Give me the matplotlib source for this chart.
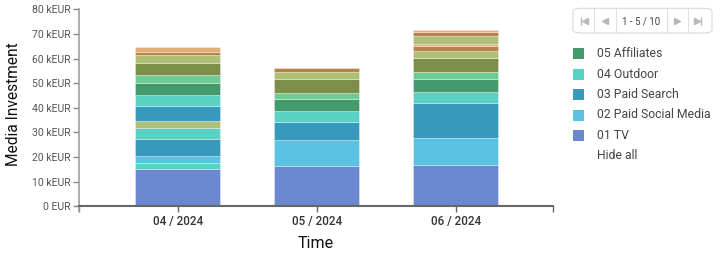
import matplotlib
matplotlib.use("Agg")
import matplotlib.pyplot as plt
from matplotlib.ticker import FuncFormatter, MultipleLocator
from matplotlib.patches import FancyBboxPatch, Rectangle
from matplotlib.lines import Line2D

plt.rcParams['font.family'] = ['Roboto', 'DejaVu Sans']

# ---- data (kEUR) ----
months = ["04 / 2024", "05 / 2024", "06 / 2024"]
series_names = ["01 TV", "02 Paid Social Media", "03 Paid Search", "04 Outdoor",
                "05 Affiliates", "06", "07", "08", "09", "10"]
series_colors = ["#6a87cf", "#5bc2e2", "#3799bb", "#5bd1c5", "#449a6d",
                 "#6dcc95", "#7d8d4a", "#aec075", "#b8834a", "#e3ad78"]

apr_series = [0, 3, 1, 2, 3, 7, 2, 3, 4, 5, 6, 7, 8, 9]
apr_values = [15.3, 2.1, 3.2, 6.8, 4.2, 3.2, 6.0, 4.6, 4.7, 3.1, 5.1, 3.0, 1.4, 2.0]
may_series = [0, 1, 2, 3, 4, 5, 6, 7, 8]
may_values = [16.3, 10.8, 7.0, 4.6, 4.7, 2.8, 5.4, 2.8, 1.8]
jun_series = [0, 1, 2, 3, 4, 5, 6, 7, 8, 9, 7, 8, 9]
jun_values = [16.7, 11.1, 14.3, 4.5, 5.1, 3.0, 5.4, 3.0, 1.8, 0.9, 3.4, 1.4, 0.8]

stacks = [(apr_series, apr_values), (may_series, may_values), (jun_series, jun_values)]

W, H = 727, 259
fig = plt.figure(figsize=(W / 100, H / 100), dpi=100)

def fx(x):
    return x / W

def fy(y):
    return 1 - y / H

ax = fig.add_axes([fx(79), fy(206.3), fx(553) - fx(79), fy(9.3) - fy(206.3)])

for i, (ser, vals) in enumerate(stacks):
    bottom = 0.0
    for s, v in zip(ser, vals):
        ax.bar(i, v, bottom=bottom, width=0.61, color=series_colors[s],
               edgecolor=(1, 1, 1, 0.45), linewidth=0.5)
        bottom += v

ax.set_xlim(-0.71, 2.70)
ax.set_ylim(0, 80)
ax.yaxis.set_major_locator(MultipleLocator(10))
ax.yaxis.set_major_formatter(FuncFormatter(lambda v, p: "0 EUR" if v == 0 else f"{v:g} kEUR"))
ax.set_xticks(range(len(months)))
ax.set_xticklabels(months, fontweight="medium")
ax.set_xticks([-0.71, 2.70], minor=True)

for s in ["top", "right"]:
    ax.spines[s].set_visible(False)
ax.spines["left"].set_color("#a0a0a0")
ax.spines["left"].set_linewidth(1.2)
ax.spines["bottom"].set_color("#666666")
ax.spines["bottom"].set_linewidth(1.5)
ax.spines["left"].set_bounds(-2, 80)

ax.tick_params(axis="y", length=4, width=1, color="#888888", labelsize=7.5,
               labelcolor="#555555", pad=2)
ax.tick_params(axis="x", which="both", length=4, width=1, color="#666666",
               labelsize=8.4, labelcolor="#333333", pad=2)
ax.tick_params(axis="x", which="minor", length=4)

ax.set_ylabel("Media Investment", fontsize=11.2, color="#111111")
ax.yaxis.set_label_coords(-0.123, 0.52)
ax.set_xlabel("Time", fontsize=11.5, color="#111111", labelpad=6)

# ---- paginated legend ----
box = FancyBboxPatch((fx(573), fy(33)), fx(712) - fx(573), fy(8.3) - fy(33),
                     boxstyle="round,pad=0,rounding_size=0.012",
                     transform=fig.transFigure, facecolor="white",
                     edgecolor="#d9d9d9", linewidth=0.8)
fig.add_artist(box)
for xd in [594.3, 615.7, 666.7, 688.3]:
    fig.add_artist(Line2D([fx(xd), fx(xd)], [fy(9), fy(32.5)], transform=fig.transFigure,
                          color="#e2e2e2", linewidth=0.8))
ic = "#b8b8b8"
yc = fy(21)
# first
fig.add_artist(Line2D([fx(581)], [yc], marker='|', markersize=6, color=ic, transform=fig.transFigure))
fig.add_artist(Line2D([fx(585)], [yc], marker='<', markersize=4.5, color=ic, transform=fig.transFigure))
# prev
fig.add_artist(Line2D([fx(605)], [yc], marker='<', markersize=4.5, color=ic, transform=fig.transFigure))
# next
fig.add_artist(Line2D([fx(677)], [yc], marker='>', markersize=4.5, color=ic, transform=fig.transFigure))
# last
fig.add_artist(Line2D([fx(697)], [yc], marker='>', markersize=4.5, color=ic, transform=fig.transFigure))
fig.add_artist(Line2D([fx(701)], [yc], marker='|', markersize=6, color=ic, transform=fig.transFigure))
fig.text(fx(641), yc, "1 - 5 / 10", fontsize=7, color="#444444", ha="center", va="center")

legend_rows_y = [53.8, 74.2, 94.6, 115.0, 135.2]
page = list(range(5))[::-1]
for yy, si in zip(legend_rows_y, page):
    fig.add_artist(Rectangle((fx(572.5), fy(yy + 5.5)), fx(11), 11 / H,
                             transform=fig.transFigure, facecolor=series_colors[si],
                             edgecolor="none"))
    fig.text(fx(597), fy(yy), series_names[si], fontsize=8.8, color="#444444",
             ha="left", va="center")
fig.text(fx(597), fy(155.3), "Hide all", fontsize=8.8, color="#444444", ha="left", va="center")

fig.savefig("out.png", dpi=100)
